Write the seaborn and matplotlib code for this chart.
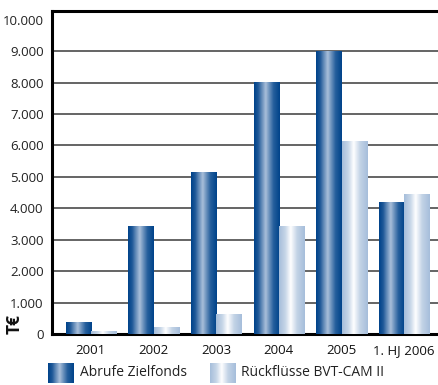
import numpy as np
import pandas as pd
import matplotlib
matplotlib.use("Agg")
import matplotlib.pyplot as plt
from matplotlib.colors import LinearSegmentedColormap
import seaborn as sns

jahre = ["2001", "2002", "2003", "2004", "2005", "1. HJ 2006"]
abrufe = [360, 3410, 5130, 8000, 8990, 4180]
rueck = [70, 200, 610, 3410, 6120, 4440]
serien = ["Abrufe Zielfonds", "Rückflüsse BVT-CAM II"]
yticks = [0, 1000, 2000, 3000, 4000, 5000, 6000, 7000, 8000, 9000, 10000]
ylabels = ["0", "1.000", "2.000", "3.000", "4.000", "5.000", "6.000", "7.000", "8.000", "9.000", "10.000"]

df = pd.DataFrame({
    "Jahr": jahre * 2,
    "Wert": abrufe + rueck,
    "Serie": [serien[0]] * len(jahre) + [serien[1]] * len(jahre),
})

sns.set_theme(style="white")
plt.rcParams["font.family"] = ["Open Sans", "DejaVu Sans"]

W, H = 438, 385
fig = plt.figure(figsize=(W / 100, H / 100), dpi=100)
ax = fig.add_axes([52 / W, 51 / H, (438 - 52) / W, (334 - 11) / H])

dark = "#00468c"
light = "#a9c0db"
sns.barplot(data=df, x="Jahr", y="Wert", hue="Serie", palette=[dark, light],
            width=0.8, legend=False, ax=ax, saturation=1, zorder=3)

cmap_a = LinearSegmentedColormap.from_list("a", [(0, "#00438a"), (0.15, "#1d5797"), (0.45, "#a9bfda"), (0.75, "#27609d"), (1, "#00438a")])
cmap_b = LinearSegmentedColormap.from_list("b", [(0, "#a6bedb"), (0.25, "#c8d7e8"), (0.45, "#ffffff"), (0.7, "#c3d3e6"), (1, "#a6bedb")])
grad = np.linspace(0, 1, 64).reshape(1, -1)

for cont, cm in zip(ax.containers, [cmap_a, cmap_b]):
    for p in cont.patches:
        x0, w, h = p.get_x(), p.get_width(), p.get_height()
        p.set_alpha(0)
        ax.imshow(grad, cmap=cm, extent=[x0, x0 + w, 0, h], aspect="auto",
                  zorder=3, interpolation="bilinear")

ax.set_xlim(-0.62, 5.54)
ax.set_ylim(0, 10280)
ax.set_yticks(yticks)
ax.set_yticklabels(ylabels, fontsize=9.5, color="#222222")
ax.tick_params(axis="y", length=0, pad=6)
ax.tick_params(axis="x", length=0, pad=7, labelsize=9.5)
for lab in ax.get_xticklabels():
    lab.set_color("#111111")
ax.set_xlabel("")
ax.set_ylabel("")

for yv in yticks[1:-1]:
    ax.axhline(yv, color="#3a3a3a", lw=1.1, zorder=1)

for s in ["top", "left", "bottom"]:
    ax.spines[s].set_color("black")
    ax.spines[s].set_linewidth(2.2)
ax.spines["right"].set_visible(False)

fig.text(15 / W, 1 - 324 / H, "T€", rotation=90, fontsize=12.5, fontweight="bold",
         ha="center", va="center", color="#111111")

# legend
for i, (cm, sx, tx) in enumerate([(cmap_a, 48, 80), (cmap_b, 210, 241)]):
    lax = fig.add_axes([sx / W, (385 - 383) / H, 26 / W, 20 / H])
    lax.imshow(grad, cmap=cm, aspect="auto", interpolation="bilinear")
    lax.axis("off")
    fig.text(tx / W, 1 - 373 / H, serien[i], fontsize=10, va="center", ha="left", color="#222222")

fig.savefig("out.png", dpi=100)
